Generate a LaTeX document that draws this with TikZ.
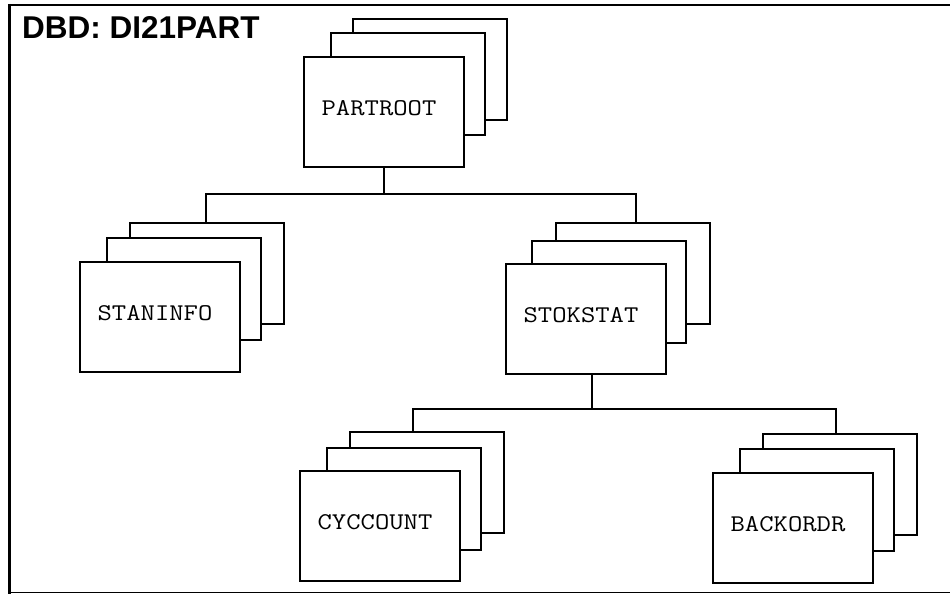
\documentclass[tikz,border=0pt]{standalone}
\usepackage{fontspec}
\usepackage{graphicx}
\setmainfont{Liberation Sans}
\begin{document}
\begin{tikzpicture}[x=1pt,y=-1pt,
  boxbase/.style={draw, line width=2.3pt, fill=white, anchor=north west, inner sep=0pt, outer sep=0pt},
  frontbox/.style={boxbase, minimum width=160pt, minimum height=110pt},
  midbox/.style={boxbase, minimum width=154pt, minimum height=102pt},
  backbox/.style={boxbase, minimum width=154pt, minimum height=101pt},
  lbl/.style={font=\ttfamily\fontsize{24}{27}\selectfont, inner sep=0pt},
  conn/.style={draw, line width=2.3pt, line join=miter}]
\newcommand{\boxlbl}[1]{\scalebox{1.16}[1]{#1}}
\useasboundingbox (0,0) rectangle (950,594);
\fill[white] (0,0) rectangle (950,594);
% frame
\draw[line width=3pt] (9.5,4) -- (9.5,594);
\draw[line width=2.3pt] (8,5) -- (950,5);
\draw[line width=1.2pt] (9.5,592.5) -- (950,592.5);
% title
\node[anchor=base west, inner sep=0pt, font=\bfseries\fontsize{31.5}{35}\selectfont] (title) at (22,39) {DBD: DI21PART};
% PARTROOT
\node[backbox] (partroot3) at (353,19) {};
\node[midbox] (partroot2) at (331,33) {};
\node[frontbox] (partroot) at (304,57) {};
\node[lbl] (partroot-t) at ([shift={(-5,-4)}]partroot.center) {\boxlbl{PARTROOT}};
% STANINFO
\node[backbox] (staninfo3) at (130,223) {};
\node[midbox] (staninfo2) at (107,238) {};
\node[frontbox] (staninfo) at (80,262) {};
\node[lbl] (staninfo-t) at ([shift={(-5,-4)}]staninfo.center) {\boxlbl{STANINFO}};
% STOKSTAT
\node[backbox] (stokstat3) at (556,223) {};
\node[midbox] (stokstat2) at (532,241) {};
\node[frontbox] (stokstat) at (506,264) {};
\node[lbl] (stokstat-t) at ([shift={(-5,-4)}]stokstat.center) {\boxlbl{STOKSTAT}};
% CYCCOUNT
\node[backbox] (cyccount3) at (350,432) {};
\node[midbox] (cyccount2) at (327,448) {};
\node[frontbox] (cyccount) at (300,471) {};
\node[lbl] (cyccount-t) at ([shift={(-5,-4)}]cyccount.center) {\boxlbl{CYCCOUNT}};
% BACKORDR
\node[backbox] (backordr3) at (763,434) {};
\node[midbox] (backordr2) at (740,449) {};
\node[frontbox] (backordr) at (713,473) {};
\node[lbl] (backordr-t) at ([shift={(-5,-4)}]backordr.center) {\boxlbl{BACKORDR}};
% connectors
\coordinate (t1m) at (384,194);
\coordinate (t1l) at (206,194);
\coordinate (t1r) at (636,194);
\draw[conn] (t1m |- partroot.south) -- (t1m);
\draw[conn] (t1l |- staninfo3.north) -- (t1l) -- (t1r) -- (t1r |- stokstat3.north);
\coordinate (t2m) at (592,409);
\coordinate (t2l) at (413,409);
\coordinate (t2r) at (836,409);
\draw[conn] (t2m |- stokstat.south) -- (t2m);
\draw[conn] (t2l |- cyccount3.north) -- (t2l) -- (t2r) -- (t2r |- backordr3.north);
\end{tikzpicture}
\end{document}
